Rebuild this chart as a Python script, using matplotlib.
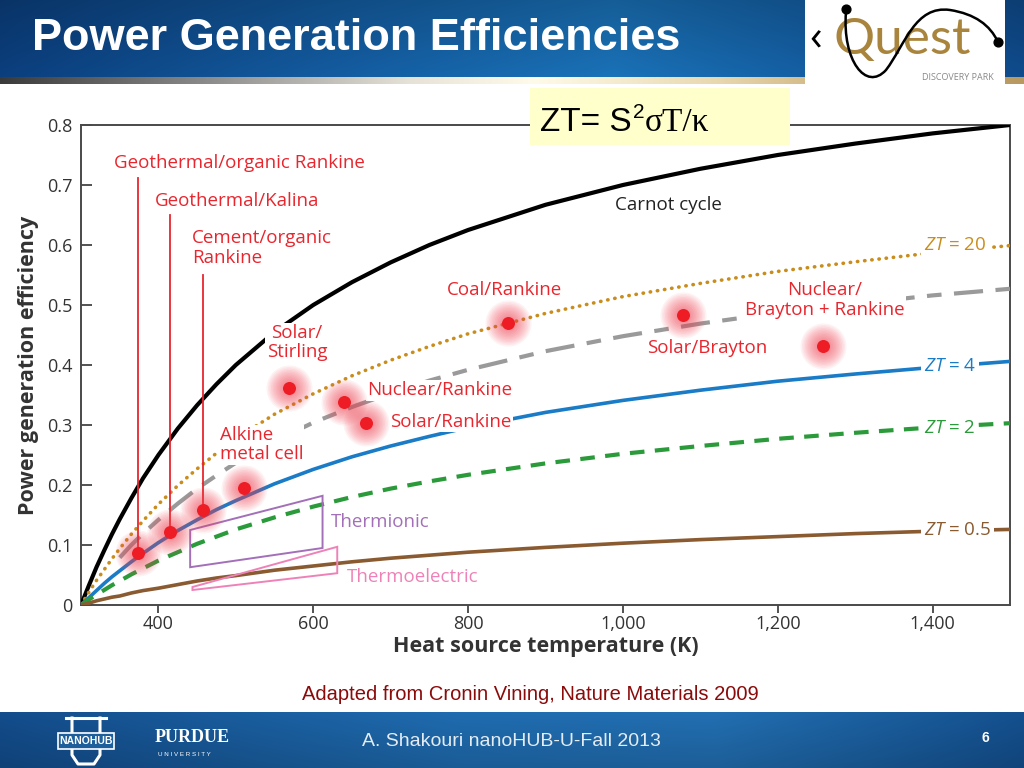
import numpy as np
import matplotlib.pyplot as plt
from matplotlib import font_manager
from matplotlib.patches import Rectangle, Polygon, PathPatch
from matplotlib.path import Path

plt.rcParams['font.family'] = ['Open Sans', 'DejaVu Sans']
plt.rcParams['mathtext.fontset'] = 'custom'
plt.rcParams['mathtext.it'] = 'Open Sans:italic'
plt.rcParams['mathtext.rm'] = 'Open Sans'

names = {f.name for f in font_manager.fontManager.ttflist}
narrow = 'Liberation Sans Narrow' in names
sans_narrow = ['Liberation Sans Narrow', 'Liberation Sans'] if narrow else ['Liberation Sans']

# heat source temperature (K) and efficiency
temps = [300, 310, 320, 330, 340, 350, 365, 380, 400, 425, 450, 475, 500, 550, 600, 650,
         700, 750, 800, 900, 1000, 1100, 1200, 1300, 1400, 1500]
carnot = [0, 0.032, 0.063, 0.091, 0.118, 0.143, 0.178, 0.211, 0.250, 0.294, 0.333, 0.368, 0.400,
          0.455, 0.500, 0.538, 0.571, 0.600, 0.625, 0.667, 0.700, 0.727, 0.750, 0.769, 0.786, 0.800]
zt20 = [0, 0.021, 0.041, 0.059, 0.077, 0.094, 0.118, 0.140, 0.168, 0.199, 0.227, 0.253, 0.277,
        0.318, 0.352, 0.382, 0.408, 0.431, 0.452, 0.486, 0.514, 0.536, 0.556, 0.572, 0.587, 0.599]
zt10 = [0, 0.017, 0.034, 0.050, 0.065, 0.079, 0.100, 0.119, 0.142, 0.169, 0.194, 0.216, 0.237,
        0.273, 0.304, 0.330, 0.353, 0.374, 0.392, 0.423, 0.448, 0.469, 0.487, 0.502, 0.516, 0.527]
zt4 = [0, 0.012, 0.024, 0.036, 0.047, 0.057, 0.072, 0.086, 0.104, 0.124, 0.142, 0.159, 0.174,
       0.202, 0.226, 0.247, 0.265, 0.281, 0.296, 0.321, 0.341, 0.358, 0.373, 0.385, 0.396, 0.406]
zt2 = [0, 0.009, 0.017, 0.025, 0.033, 0.040, 0.051, 0.061, 0.074, 0.088, 0.102, 0.114, 0.126,
       0.146, 0.164, 0.180, 0.194, 0.206, 0.217, 0.236, 0.252, 0.265, 0.277, 0.287, 0.296, 0.303]
zt05 = [0, 0.003, 0.007, 0.010, 0.013, 0.015, 0.020, 0.024, 0.028, 0.034, 0.040, 0.045, 0.049,
        0.058, 0.065, 0.072, 0.078, 0.083, 0.088, 0.096, 0.103, 0.109, 0.114, 0.119, 0.123, 0.126]
zt10_start = 5   # grey curve begins near 350 K

# power plants
plant_T = [373, 415, 458, 511, 569, 640, 668, 852, 1077, 1259]
plant_eff = [0.087, 0.122, 0.158, 0.195, 0.362, 0.338, 0.303, 0.470, 0.483, 0.432]
leader_top = [0.712, 0.650, 0.550]   # first three plants have leader lines

# thermionic / thermoelectric ranges
thermionic_T = [441, 612, 612, 441]
thermionic_eff = [0.125, 0.182, 0.095, 0.063]
thermoel_T = [444, 631, 631, 444]
thermoel_eff = [0.030, 0.097, 0.053, 0.025]

xticks = [400, 600, 800, 1000, 1200, 1400]
xticklabels = ['400', '600', '800', '1,000', '1,200', '1,400']
yticks = [0, 0.1, 0.2, 0.3, 0.4, 0.5, 0.6, 0.7, 0.8]
yticklabels = ['0', '0.1', '0.2', '0.3', '0.4', '0.5', '0.6', '0.7', '0.8']

RED = '#e8262e'
GOLD = '#c98d1c'
BLUE = '#1a7bc6'
GREEN = '#2b9a3a'
BROWN = '#8a5a30'
GRAY = '#9a9a9a'

fig = plt.figure(figsize=(10.24, 7.68), dpi=100)
fig.patch.set_facecolor('white')

ax = fig.add_axes([81/1024, 1-605/768, 929/1024, 480/768])
ax.set_xlim(300, 1500)
ax.set_ylim(0, 0.8)

ax.plot(temps, carnot, color='black', lw=3, zorder=3)
ax.plot(temps, zt20, color=GOLD, lw=2.6, ls=(0, (0.1, 1.9)), dash_capstyle='round', zorder=3)
ax.plot(temps[zt10_start:], zt10[zt10_start:], color=GRAY, lw=3, ls=(0, (7, 3, 3.5, 3)), zorder=3)
ax.plot(temps, zt4, color=BLUE, lw=2.6, zorder=3)
ax.plot(temps, zt2, color=GREEN, lw=3, ls=(0, (3.5, 2.5)), zorder=3)
ax.plot(temps, zt05, color=BROWN, lw=2.6, zorder=3)

ax.add_patch(Polygon(list(zip(thermionic_T, thermionic_eff)), closed=True, fill=False,
                     ec='#a36fb8', lw=1.4, zorder=4))
ax.add_patch(Polygon(list(zip(thermoel_T, thermoel_eff)), closed=True, fill=False,
                     ec='#ee82b8', lw=1.4, zorder=4))

# leader lines
for t, e, top in zip(plant_T[:3], plant_eff[:3], leader_top):
    ax.plot([t, t], [e, top], color=RED, lw=1.3, zorder=6)

# glowing dots
for r in np.arange(23, 7, -1.5):
    ax.scatter(plant_T, plant_eff, s=(1.44*r)**2, color='#f04050', alpha=0.065, lw=0, zorder=7)
ax.scatter(plant_T, plant_eff, s=(1.44*6.5)**2, color='#ee1c24', lw=0, zorder=8)

box = dict(facecolor='white', edgecolor='none', pad=1.0)
lab_kw = dict(color=RED, fontsize=13.5, zorder=5, linespacing=1.1, bbox=box)
ax.text(342, 0.737, 'Geothermal/organic Rankine', ha='left', va='center', **lab_kw)
ax.text(396, 0.673, 'Geothermal/Kalina', ha='left', va='center', **lab_kw)
ax.text(443, 0.595, 'Cement/organic\nRankine', ha='left', va='center', **lab_kw)
ax.text(579, 0.437, 'Solar/\nStirling', ha='center', va='center', multialignment='center', **lab_kw)
ax.text(479, 0.267, 'Alkine\nmetal cell', ha='left', va='center', **lab_kw)
ax.text(670, 0.358, 'Nuclear/Rankine', ha='left', va='center', **lab_kw)
ax.text(699, 0.305, 'Solar/Rankine', ha='left', va='center', **lab_kw)
ax.text(773, 0.525, 'Coal/Rankine', ha='left', va='center', **lab_kw)
ax.text(1031, 0.428, 'Solar/Brayton', ha='left', va='center', **lab_kw)
ax.text(1261, 0.508, 'Nuclear/\nBrayton + Rankine', ha='center', va='center', multialignment='center', **lab_kw)

ax.text(990, 0.667, 'Carnot cycle', color='#222222', fontsize=13.5, ha='left', va='center', zorder=5)
ax.text(623, 0.138, 'Thermionic', color='#a36fb8', fontsize=13.5, ha='left', va='center', zorder=5)
ax.text(644, 0.047, 'Thermoelectric', color='#ee82b8', fontsize=13.5, ha='left', va='center', zorder=5)

zt_kw = dict(fontsize=13.5, ha='left', va='center', zorder=5,
             bbox=dict(facecolor='white', edgecolor='none', pad=2.0))
ax.text(1389, 0.600, '$ZT$ = 20', color=GOLD, **zt_kw)
ax.text(1389, 0.398, '$ZT$ = 4', color=BLUE, **zt_kw)
ax.text(1389, 0.295, '$ZT$ = 2', color=GREEN, **zt_kw)
ax.text(1389, 0.125, '$ZT$ = 0.5', color=BROWN, **zt_kw)

ax.set_xticks(xticks)
ax.set_xticklabels(xticklabels)
ax.set_yticks(yticks)
ax.set_yticklabels(yticklabels)
ax.tick_params(axis='x', direction='out', length=6, width=1.3, pad=1.5, labelsize=13,
               colors='#444444', labelcolor='#333333')
ax.tick_params(axis='y', direction='in', length=8, width=1.3, pad=6, labelsize=13,
               colors='#444444', labelcolor='#333333')
for s in ax.spines.values():
    s.set_color('#4a4a4a')
    s.set_linewidth(1.4)
ax.set_xlabel('Heat source temperature (K)', fontsize=15.5, fontweight='bold', color='#333333')
ax.set_ylabel('Power generation efficiency', fontsize=15.5, fontweight='bold', color='#333333')
ax.xaxis.set_label_coords(0.5, -0.064)
ax.yaxis.set_label_coords(-0.045, 0.5)

# slide decoration, in pixel coordinates
ov = fig.add_axes([0, 0, 1, 1])
ov.set_xlim(0, 1024)
ov.set_ylim(768, 0)
ov.axis('off')
ov.patch.set_visible(False)


def hgrad(stops, width=1024):
    xs = np.linspace(0, 1, width)
    pos = [p for p, c in stops]
    cols = np.array([[int(c[i:i+2], 16)/255 for i in (1, 3, 5)] for p, c in stops])
    return np.stack([np.interp(xs, pos, cols[:, k]) for k in range(3)], axis=-1)


title_row = hgrad([(0, '#0b3f7e'), (0.35, '#145ea3'), (0.6, '#1a72b8'), (0.8, '#145ea3'), (1, '#0f4b8c')])
shade = np.linspace(0.82, 1.0, 77)[:, None, None]
ov.imshow(title_row[None, :, :] * shade, extent=[0, 1024, 77, 0], aspect='auto', zorder=1)
strip = hgrad([(0, '#3a3a3a'), (0.2, '#8a8a8a'), (0.4, '#e6e2d8'), (0.52, '#fffbea'),
               (0.7, '#e8d8b0'), (0.85, '#c8a870'), (1, '#b89a60')])
ov.imshow(strip[None, :, :], extent=[0, 1024, 84, 77], aspect='auto', zorder=1)

ov.text(32, 39, 'Power Generation Efficiencies', color='white', fontweight='bold',
        fontsize=34 if narrow else 32.5, family=sans_narrow, ha='left', va='center', zorder=3)

# Quest logo
ov.add_patch(Rectangle((805, 0), 200, 86, fc='white', ec='none', zorder=2))
ov.text(902, 40, 'Quest', color='#a8843c', fontsize=37, family=['Lato', 'DejaVu Sans'],
        ha='center', va='center', zorder=3)
ov.text(816, 40, '‹', color='black', fontsize=30, ha='center', va='center', zorder=3)
ov.text(958, 77, 'DISCOVERY PARK', color='#888888', fontsize=6.5, ha='center', va='center', zorder=3)
curve = Path([(846, 12), (842, 60), (866, 92), (886, 70), (905, 45), (915, 5), (950, 10),
              (975, 14), (990, 25), (998, 42)],
             [Path.MOVETO, Path.CURVE4, Path.CURVE4, Path.CURVE4, Path.CURVE4, Path.CURVE4,
              Path.CURVE4, Path.CURVE4, Path.CURVE4, Path.CURVE4])
ov.add_patch(PathPatch(curve, fc='none', ec='black', lw=1.8, zorder=3))
ov.scatter([846, 998], [9, 42], s=40, color='black', zorder=4)

# formula box
ov.add_patch(Rectangle((530, 88), 260, 57, fc='#ffffcc', ec='none', zorder=2))
ov.text(540, 131, 'ZT= S', fontsize=24, family=['Liberation Sans'], color='black',
        ha='left', va='baseline', zorder=3)
ov.text(633, 118, '2', fontsize=15, family=['Liberation Sans'], color='black',
        ha='left', va='baseline', zorder=3)
ov.text(645, 131, 'σT/κ', fontsize=24, family=['Liberation Serif', 'DejaVu Serif'], color='black',
        ha='left', va='baseline', zorder=3)

# citation
ov.text(530, 694, 'Adapted from Cronin Vining, Nature Materials 2009', color='#8b0a0a',
        fontsize=14.5, family=['Liberation Sans'], ha='center', va='center', zorder=3)

# footer bar
foot_row = hgrad([(0, '#134d8c'), (0.45, '#1f6cb0'), (0.7, '#226fb2'), (1, '#14508f')])
fshade = np.linspace(1.0, 0.85, 56)[:, None, None]
ov.imshow(foot_row[None, :, :] * fshade, extent=[0, 1024, 768, 712], aspect='auto', zorder=1)
ov.text(362, 742, 'A. Shakouri nanoHUB-U-Fall 2013', color='#e4ecf4',
        fontsize=16 if narrow else 14, family=sans_narrow, ha='left', va='center', zorder=3)
ov.text(985, 738, '6', color='white', fontsize=10, fontweight='bold', family=['Liberation Sans'],
        ha='center', va='center', zorder=3)

# nanoHUB / Purdue marks
ov.plot([72, 72, 78, 94, 100, 100], [718, 755, 764, 764, 755, 718], color='white', lw=2.2, zorder=3)
ov.plot([66, 106], [718, 718], color='white', lw=2.2, zorder=3)
ov.add_patch(Rectangle((58, 733), 56, 16, fc='#1d5e9c', ec='white', lw=1.2, zorder=4))
ov.text(86, 741.5, 'NANOHUB', color='white', fontsize=7.5, fontweight='bold',
        family=['Liberation Sans'], ha='center', va='center', zorder=5)
ov.text(155, 737, 'PURDUE', color='white', fontsize=13, fontweight='bold',
        family=['Liberation Serif', 'DejaVu Serif'], ha='left', va='center', zorder=3)
ov.text(158, 754, 'U N I V E R S I T Y', color='white', fontsize=4.5,
        family=['Liberation Sans'], ha='left', va='center', zorder=3)

fig.savefig('out.png', dpi=100)
